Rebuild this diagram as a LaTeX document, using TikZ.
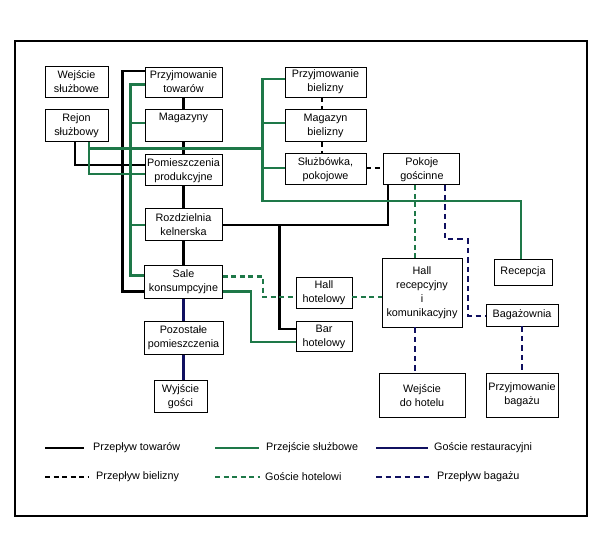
\documentclass[tikz,border=0pt]{standalone}
\usepackage{fontspec}
\setmainfont{Liberation Sans}
\usetikzlibrary{calc,positioning}
\definecolor{sgreen}{RGB}{30,120,72}
\definecolor{navy}{RGB}{16,16,96}

\begin{document}
\begin{tikzpicture}
  [
    x=1pt,y=-1pt,
    box/.style={rectangle,draw=black,fill=white,line width=0.9pt,inner sep=1pt,align=center,
      minimum width=77pt,minimum height=31pt,font=\fontsize{10.8}{14}\selectfont},
    legtext/.style={anchor=west,inner sep=0pt,font=\fontsize{10.8}{14}\selectfont},
    towary/.style={draw=black,line width=2.3pt},
    sluzba/.style={draw=sgreen,line width=2.3pt},
    restauracja/.style={draw=navy,line width=2.3pt},
    bielizna/.style={draw=black,line width=2.3pt,dash pattern=on 5pt off 3.5pt},
    hotel/.style={draw=sgreen,line width=2.3pt,dash pattern=on 5pt off 3.5pt},
    bagaz/.style={draw=navy,line width=2.3pt,dash pattern=on 5.5pt off 4pt}
  ]
  \useasboundingbox (0,0) rectangle (606,533);
  \draw[line width=2pt] (15,41) rectangle (587,516);

  % strefa sluzbowa
  \node[box,minimum width=63pt] (wejscie sluzbowe) at (76.5,81.5) {Wejście\\służbowe};
  \node[box,minimum width=63pt,minimum height=32pt] (rejon) [below=12pt of wejscie sluzbowe] {Rejon\\służbowy};

  \node[box,minimum height=30pt] (przyjmowanie towarow) at (183.5,82) {Przyjmowanie\\towarów};
  \node[box,minimum height=32pt] (magazyny) [below=12pt of przyjmowanie towarow] {Magazyny\\\strut};
  \node[box] (pomieszczenia) [below=12pt of magazyny] {Pomieszczenia\\produkcyjne};
  \node[box,minimum height=32pt] (rozdzielnia) [below=22pt of pomieszczenia] {Rozdzielnia\\kelnerska};
  \node[box,minimum width=78pt,minimum height=33pt] (sale) [below=24pt of rozdzielnia] {Sale\\konsumpcyjne};
  \node[box,minimum width=79pt,minimum height=33pt] (pozostale) [below=22pt of sale] {Pozostałe\\pomieszczenia};
  \node[box,minimum width=53pt,minimum height=32pt] (wyjscie gosci) [below=25pt of pozostale,xshift=-3pt] {Wyjście\\gości};

  % strefa hotelowa
  \node[box,minimum width=81pt,minimum height=30pt] (przyjmowanie bielizny) at (325.5,82) {Przyjmowanie\\bielizny};
  \node[box,minimum width=81pt,minimum height=32pt] (magazyn bielizny) [below=12pt of przyjmowanie bielizny] {Magazyn\\bielizny};
  \node[box,minimum width=81pt] (sluzbowka) [below=11pt of magazyn bielizny] {Służbówka,\\pokojowe};
  \node[box,minimum width=76pt] (pokoje) [right=17pt of sluzbowka] {Pokoje\\gościnne};

  \node[box,minimum width=56pt] (hall hotelowy) at (324,292.5) {Hall\\hotelowy};
  \node[box,minimum width=56pt,minimum height=30pt] (bar) [below=13pt of hall hotelowy] {Bar\\hotelowy};
  \node[box,minimum width=80pt,minimum height=69pt] (hall recepcyjny) at (422,292.5) {Hall\\recepcyjny\\i\\komunikacyjny};
  \node[box,minimum width=86pt,minimum height=44pt] (wejscie hotel) [below=46pt of hall recepcyjny] {Wejście\\do hotelu};
  \node[box,minimum width=58pt,minimum height=26pt] (recepcja) at (523,272) {Recepcja};
  \node[box,minimum width=72pt,minimum height=22pt] (bagazownia) at (522,315) {Bagażownia};
  \node[box,minimum width=72pt,minimum height=44pt] (przyjmowanie bagazu) at (522,395) {Przyjmowanie\\bagażu};

  % przeplyw towarow
  \draw[towary] ([yshift=11pt]przyjmowanie towarow.west) -- ++(-22,0) |- ([yshift=-9.5pt]sale.west);
  \draw[towary] (przyjmowanie towarow.south) -- (magazyny.north);
  \draw[towary] (magazyny.south) -- (pomieszczenia.north);
  \draw[towary] (pomieszczenia.south) -- (rozdzielnia.north);
  \draw[towary] (rozdzielnia.south) -- (sale.north);
  \draw[towary] ([xshift=-1.5pt]rejon.south) |- ([yshift=5.5pt]pomieszczenia.west);
  \draw[towary] (rozdzielnia.east) -| ([xshift=-34pt]pokoje.south);
  \coordinate (bar joint) at ($(bar.west)+(-16,0)$);
  \draw[towary] (bar joint |- rozdzielnia.east) |- ([yshift=8pt]bar.west);

  % przejscie sluzbowe
  \draw[sluzba] ([yshift=-2.5pt]przyjmowanie towarow.west) -- ++(-14,0) |- ([yshift=6.5pt]sale.west);
  \draw[sluzba] ([yshift=3pt]magazyny.west) -- ++(-14,0);
  \draw[sluzba] (rozdzielnia.west) -- ++(-14,0);
  \draw[sluzba] ([xshift=12.5pt]rejon.south) |- ([yshift=-3.5pt]pomieszczenia.west);
  \coordinate (rejon joint) at ($(rejon.south)+(12.5,6)$);
  \coordinate (bielizna joint) at ($(przyjmowanie bielizny.west)+(-22,119)$);
  \draw[sluzba] ([yshift=3pt]przyjmowanie bielizny.west) -| (bielizna joint) -| ([xshift=-2pt]recepcja.north);
  \draw[sluzba] ([yshift=3pt]magazyn bielizny.west) -- ++(-22,0);
  \draw[sluzba] ([yshift=1.5pt]sluzbowka.west) -- ++(-22,0);
  \draw[sluzba] (rejon joint) -- (rejon joint -| bielizna joint);
  \draw[sluzba] ([yshift=-9.5pt]sale.east) -- ++(28,0) |- ([yshift=-5pt]bar.west);

  % goscie restauracyjni
  \draw[restauracja] (sale.south) -- (pozostale.north);
  \draw[restauracja] (pozostale.south) -- (pozostale.south |- wyjscie gosci.north);

  % przeplyw bielizny
  \draw[bielizna] ([xshift=-3.5pt]przyjmowanie bielizny.south) -- ([xshift=-3.5pt]magazyn bielizny.north);
  \draw[bielizna] ([xshift=-3.5pt]magazyn bielizny.south) -- ([xshift=-3.5pt]sluzbowka.north);
  \draw[bielizna] ([yshift=1.5pt]sluzbowka.east) -- ([yshift=1.5pt]pokoje.west);

  % goscie hotelowi
  \draw[hotel] ([yshift=5.5pt]sale.east) -- ++(40,0) |- ([yshift=-4.5pt]hall hotelowy.west);
  \draw[hotel] ([yshift=-4.5pt]hall hotelowy.east) -- ([yshift=-4.5pt]hall recepcyjny.west);
  \draw[hotel] ([xshift=-7pt]pokoje.south) -- ++(0,75);

  % przeplyw bagazu
  \draw[bagaz] ([xshift=23pt]pokoje.south) -- ++(0,54) -- ++(23,0) |- ([yshift=-1pt]bagazownia.west);
  \draw[bagaz] ([xshift=-7pt]hall recepcyjny.south) -- ++(0,46);
  \draw[bagaz] (bagazownia.south) -- (przyjmowanie bagazu.north);

  % legenda
  \draw[towary] (45,448) -- (84,448);
  \node[legtext] (leg towary) at (93,448) {Przepływ towarów};
  \draw[sluzba] (215,448) -- (259,448);
  \node[legtext] (leg sluzba) at (266,448) {Przejście służbowe};
  \draw[restauracja] (376,448) -- (428,448);
  \node[legtext] (leg restauracja) at (434,448) {Goście restauracyjni};
  \draw[bielizna] (45,477) -- (89,477);
  \node[legtext] (leg bielizna) at (96,477) {Przepływ bielizny};
  \draw[hotel] (215,477) -- (260,477);
  \node[legtext] (leg hotel) at (265,477) {Goście hotelowi};
  \draw[bagaz] (376,477) -- (429,477);
  \node[legtext] (leg bagaz) at (437,477) {Przepływ bagażu};
\end{tikzpicture}
\end{document}
